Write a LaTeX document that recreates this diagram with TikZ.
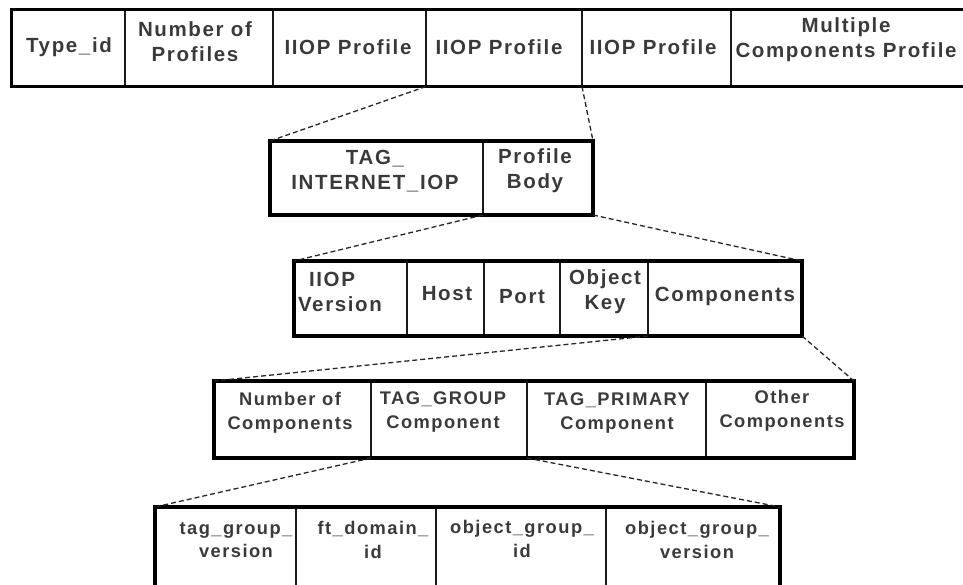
\documentclass[tikz,border=0pt]{standalone}
\usepackage{fontspec}
\newfontfamily\lbfont[LetterSpace=8]{Liberation Sans}
\definecolor{txt}{HTML}{3A3A3A}
\begin{document}
\begin{tikzpicture}[x=1pt,y=-1pt,
  cell/.style={draw=black!90, line width=1.3pt, inner sep=0pt, outer sep=0pt, anchor=north west},
  rowbox/.style={draw=black, line width=3.6pt, inner sep=0pt, outer sep=0pt, anchor=north west},
  lbl/.style={font=\lbfont\bfseries\fontsize{20.5}{25}\selectfont, text=txt, align=center, inner sep=0pt},
  slbl/.style={lbl, font=\lbfont\bfseries\fontsize{18.3}{23.5}\selectfont},
  link/.style={draw=black!85, line width=1.3pt, dash pattern=on 5pt off 3pt}]
\useasboundingbox (0,0) rectangle (963,585);
\clip (0,0) rectangle (963,585);
% ---------- row 1
\node[cell, minimum width=113.5pt, minimum height=77pt] (a1) at (11.5,9.5) {};
\node[cell, minimum width=148pt, minimum height=77pt] (a2) at (125,9.5) {};
\node[cell, minimum width=153pt, minimum height=77pt] (a3) at (273,9.5) {};
\node[cell, minimum width=156pt, minimum height=77pt] (a4) at (426,9.5) {};
\node[cell, minimum width=149pt, minimum height=77pt] (a5) at (582,9.5) {};
\node[cell, minimum width=244pt, minimum height=77pt] (a6) at (731,9.5) {};
\node[rowbox, minimum width=963.5pt, minimum height=77pt] (R1) at (11.5,9.5) {};
% ---------- row 2
\node[cell, minimum width=213pt, minimum height=74pt] (b1) at (270,141) {};
\node[cell, minimum width=110pt, minimum height=74pt] (b2) at (483,141) {};
\node[rowbox, minimum width=323pt, minimum height=74pt] (R2) at (270,141) {};
% ---------- row 3
\node[cell, minimum width=113pt, minimum height=75pt] (c1) at (294,261) {};
\node[cell, minimum width=77pt, minimum height=75pt] (c2) at (407,261) {};
\node[cell, minimum width=76pt, minimum height=75pt] (c3) at (484,261) {};
\node[cell, minimum width=88pt, minimum height=75pt] (c4) at (560,261) {};
\node[cell, minimum width=154pt, minimum height=75pt] (c5) at (648,261) {};
\node[rowbox, minimum width=508pt, minimum height=75pt] (R3) at (294,261) {};
% ---------- row 4
\node[cell, minimum width=157pt, minimum height=77pt] (d1) at (214,381) {};
\node[cell, minimum width=156pt, minimum height=77pt] (d2) at (371,381) {};
\node[cell, minimum width=179pt, minimum height=77pt] (d3) at (527,381) {};
\node[cell, minimum width=148pt, minimum height=77pt] (d4) at (706,381) {};
\node[rowbox, minimum width=640pt, minimum height=77pt] (R4) at (214,381) {};
% ---------- row 5
\node[cell, minimum width=141pt, minimum height=93pt] (e1) at (155,507) {};
\node[cell, minimum width=140pt, minimum height=93pt] (e2) at (296,507) {};
\node[cell, minimum width=170pt, minimum height=93pt] (e3) at (436,507) {};
\node[cell, minimum width=174pt, minimum height=93pt] (e4) at (606,507) {};
\node[rowbox, minimum width=625pt, minimum height=93pt] (R5) at (155,507) {};
% ---------- connectors
\draw[link] (a4.south west) -- (R2.north west);
\draw[link] (a4.south east) -- (R2.north east);
\draw[link] (b2.south west) -- (R3.north west);
\draw[link] (b2.south east) -- (R3.north east);
\draw[link] (c5.south west) -- (R4.north west);
\draw[link] (c5.south east) -- (R4.north east);
\draw[link] (d2.south west) -- (R5.north west);
\draw[link] (d2.south east) -- (R5.north east);
% ---------- labels
\node[lbl] (ta1) at (69,47) {Type\_id};
\node[lbl] (ta2) at (195,42) {Number of\\Profiles};
\node[lbl] (ta3) at (348,47) {IIOP Profile};
\node[lbl] (ta4) at (499,47) {IIOP Profile};
\node[lbl] (ta5) at (653,47) {IIOP Profile};
\node[lbl] (ta6) at (846,40) {Multiple\\Components Profile};
\node[lbl] (tb1) at (375,171) {TAG\_\\INTERNET\_IOP};
\node[lbl] (tb2) at (535,171) {Profile\\Body};
\node[lbl] (tc1) at (340,292) {IIOP\hspace*{16pt}\\Version};
\node[lbl] (tc2) at (447,294) {Host};
\node[lbl] (tc3) at (522,297) {Port};
\node[lbl] (tc4) at (605,292) {Object\\Key};
\node[lbl] (tc5) at (725,296) {Components};
\node[slbl] (td1) at (290,413) {Number of\\Components};
\node[slbl] (td2) at (443,412) {TAG\_GROUP\\Component};
\node[slbl] (td3) at (617,413) {TAG\_PRIMARY\\Component};
\node[slbl] (td4) at (782,411) {Other\\Components};
\node[slbl] (te1) at (236,540) {tag\_group\_\\version};
\node[slbl] (te2) at (373,540) {ft\_domain\_\\id};
\node[slbl] (te3) at (522,539) {object\_group\_\\id};
\node[slbl] (te4) at (697,540) {object\_group\_\\version};
\end{tikzpicture}
\end{document}
